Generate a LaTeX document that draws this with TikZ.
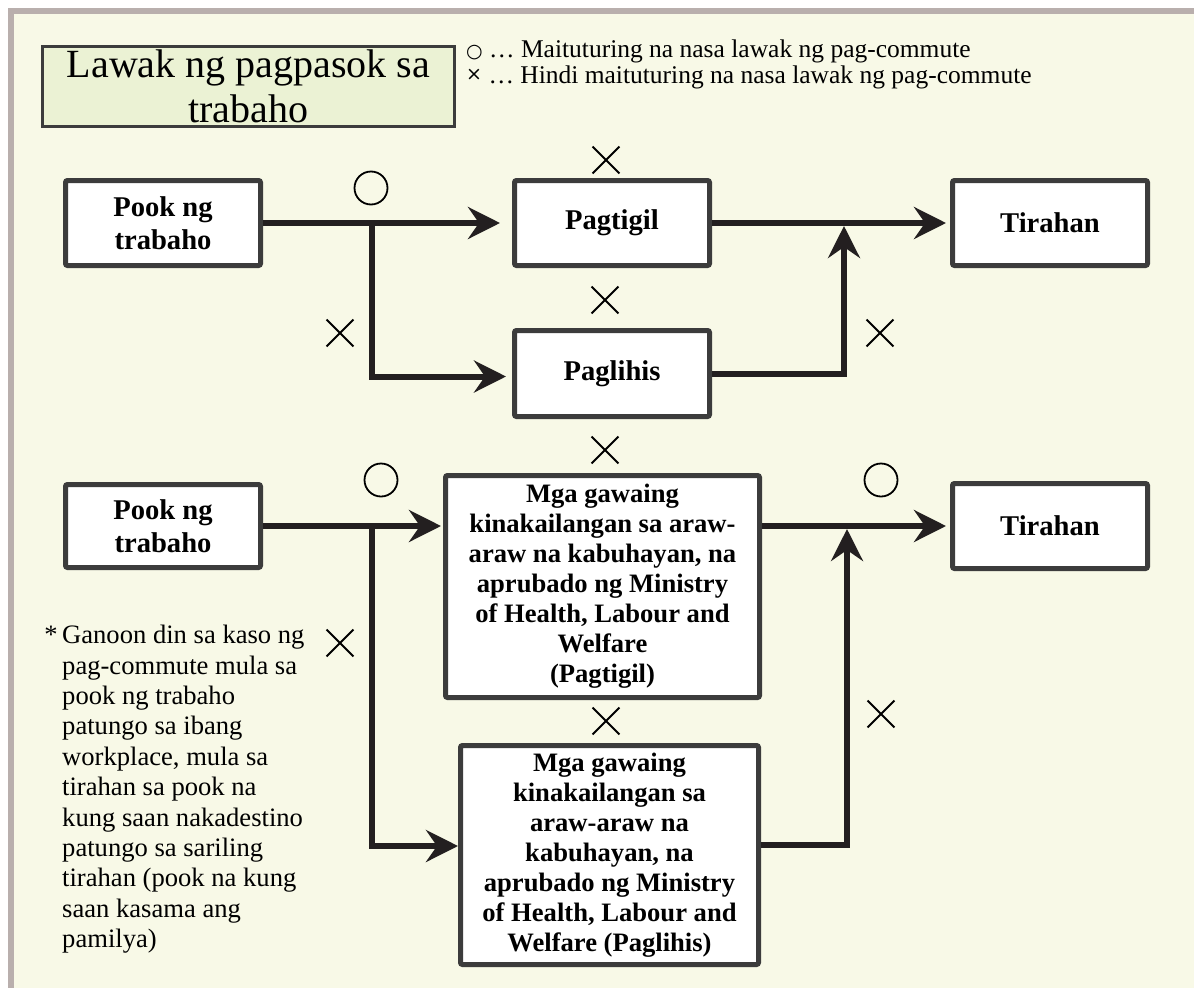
\documentclass[tikz,border=0pt]{standalone}
\usepackage{fontspec}
\setmainfont{Liberation Serif}
\newfontfamily\symfont{DejaVu Sans}
\usetikzlibrary{arrows.meta,shapes.misc}

\definecolor{paper}{HTML}{F8F9E7}
\definecolor{framegray}{HTML}{B9AFAD}
\definecolor{titlefill}{HTML}{EBF2D4}
\definecolor{boxline}{HTML}{3C3C3C}
\definecolor{arrowink}{HTML}{231F20}

\begin{document}
\begin{tikzpicture}[
        x=1pt, y=-1pt,
        box/.style={
            rectangle,
            draw=boxline,
            line width=5pt,
            fill=white,
            rounded corners=2pt,
            align=center,
            minimum width=195pt,
            minimum height=85pt,
            inner sep=0pt,
            font=\bfseries\fontsize{28.6}{33}\selectfont
        },
        bigbox/.style={
            box,
            font=\bfseries\fontsize{26.6}{30}\selectfont
        },
        titlebox/.style={
            rectangle,
            draw=boxline,
            line width=3pt,
            fill=titlefill,
            align=center,
            minimum width=412pt,
            minimum height=80pt,
            inner sep=0pt,
            font=\fontsize{40}{45}\selectfont
        },
        legend/.style={
            inner sep=0pt,
            font=\fontsize{25.5}{26}\selectfont
        },
        note/.style={
            align=left,
            inner sep=0pt,
            font=\fontsize{26.6}{30.4}\selectfont
        },
        cross/.style={
            cross out,
            draw=black,
            line width=1.8pt,
            minimum size=25pt,
            inner sep=0pt
        },
        ring/.style={
            circle,
            draw=black,
            line width=1.8pt,
            minimum size=33pt,
            inner sep=0pt
        },
        arrow/.style={
            -{Stealth[length=32pt,width=32pt,inset=11pt]},
            draw=arrowink,
            line width=6pt,
            line join=miter,
            shorten >=4pt
        }
    ]

        % frame and paper
        \useasboundingbox (0,0) rectangle (1194,988);
        \fill[framegray] (8,8) rectangle (1194,988);
        \fill[paper] (13.5,14) rectangle (1194,988);

        % heading and legend
        \node[titlebox] (title) at (248.5,86.5) {Lawak ng pagpasok sa\\trabaho};
        \node[legend, anchor=base west] (legO) at (466,57)
            {{\symfont\fontsize{19}{19}\selectfont ○}\ … Maituturing na nasa lawak ng pag-commute};
        \node[legend, anchor=base west] (legX) at (466,83)
            {\raisebox{3pt}{\symfont\fontsize{19}{19}\selectfont ×}\ … Hindi maituturing na nasa lawak ng pag-commute};

        % upper case
        \node[box] (work1) at (163,223) {Pook ng\\trabaho};
        \node[box] (stop) at (612,223) {Pagtigil};
        \node[box] (home1) at (1050,223) {Tirahan};
        \node[box, minimum height=86pt] (detour) at (612,373.5) {Paglihis};

        % lower case
        \node[box, minimum height=83pt] (work2) at (163,526) {Pook ng\\trabaho};
        \node[bigbox, minimum width=314pt, minimum height=222pt] (needstop) at (602.5,586.5)
            {Mga gawaing\\kinakailangan sa araw-\\araw na kabuhayan, na\\aprubado ng Ministry\\of Health, Labour and\\Welfare\\(Pagtigil)};
        \node[bigbox, minimum width=298pt, minimum height=219pt] (needdetour) at (609.5,855)
            {Mga gawaing\\kinakailangan sa\\araw-araw na\\kabuhayan, na\\aprubado ng Ministry\\of Health, Labour and\\Welfare (Paglihis)};
        \node[box] (home2) at (1050,526) {Tirahan};

        % footnote
        \node[note, anchor=north west] (footnote) at (62,625)
            {\llap{*\,}Ganoon din sa kaso ng\\pag-commute mula sa\\pook ng trabaho\\patungo sa ibang\\workplace, mula sa\\tirahan sa pook na\\kung saan nakadestino\\patungo sa sariling\\tirahan (pook na kung\\saan kasama ang\\pamilya)};

        % marks
        \node[ring] (okwork1) at (371,188) {};
        \node[ring] (okwork2) at (381,480) {};
        \node[ring] (okhome2) at (881,480) {};
        \node[cross] (nostop) at (606,160) {};
        \node[cross] (nodetourtop) at (605,300) {};
        \node[cross] (nofork1) at (340,333) {};
        \node[cross] (nomerge1) at (880,333) {};
        \node[cross] (noneedtop) at (605,450) {};
        \node[cross] (nofork2) at (340,643) {};
        \node[cross] (noneedmid) at (606,721) {};
        \node[cross] (nomerge2) at (881,714) {};

        \coordinate (fork1) at (372,223);
        \coordinate (merge1) at (844,223);
        \coordinate (fork2) at (372,526);
        \coordinate (merge2) at (847,526);

        \draw[arrow, shorten >=12pt] (work1.east) -- (stop.west);
        \draw[arrow, shorten >=6pt] (fork1) |- ([yshift=-3pt]detour.west);
        \draw[arrow] (stop.east) -- (home1.west);
        \draw[arrow, shorten >=3pt] (detour.east) -| (merge1);

        \draw[arrow, shorten >=2pt] (work2.east) -- (work2.east -| needstop.west);
        \draw[arrow, shorten >=0pt] (fork2) |- ([yshift=9pt]needdetour.west);
        \draw[arrow] (needstop.east |- home2.west) -- (home2.west);
        \draw[arrow, shorten >=3pt] ([yshift=10pt]needdetour.east) -| (merge2);

    \end{tikzpicture}
\end{document}
